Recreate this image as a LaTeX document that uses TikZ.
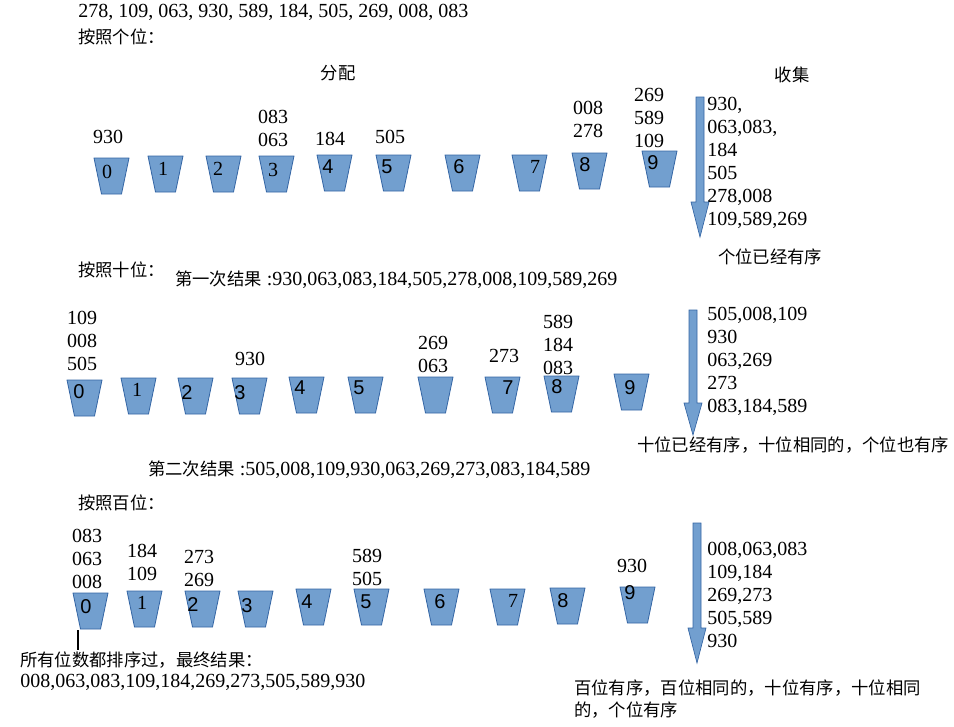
\documentclass[tikz,border=0pt]{standalone}
\usepackage{fontspec}
\setmainfont{Liberation Serif}
\newfontfamily\cjk{Noto Sans CJK SC}
\newfontfamily\lsans{Liberation Sans}
\definecolor{bucketfill}{HTML}{729FCF}
\definecolor{bucketline}{HTML}{3465A4}
\newcommand{\cn}[1]{{\cjk\fontsize{13}{16.5}\selectfont #1}}

\begin{document}
\begin{tikzpicture}[x=0.75pt,y=-0.75pt,
  every node/.style={inner sep=0pt,font=\fontsize{15}{17.25}\selectfont},
  bucket/.style={fill=bucketfill,draw=bucketline,line width=0.6pt},
  blockarrow/.style={fill=bucketfill,draw=bucketline,line width=0.5pt},
  stack/.style={align=center},
  collect/.style={anchor=west,align=left}]
  \useasboundingbox (0,0) rectangle (954,726);
  % 原始序列
  \node[anchor=west] (seq) at (78,12) {278, 109, 063, 930, 589, 184, 505, 269, 008, 083};
  \node[anchor=west] (t1) at (78,37) {\cn{按照个位：}};
  \node (fp) at (338,73) {\cn{分配}};
  \node (sj) at (792,75) {\cn{收集}};
  % 第一轮：个位
  \foreach \x/\y/\d/\dx/\dy [count=\i] in {94/158/0/107/172, 148/156/1/163/169,
      206/156/2/218/169, 259/156/3/273/170, 317/155/{\lsans 4}/328/167,
      376/155/{\lsans 5}/387/167, 445/155/{\lsans 6}/459/167, 512/155/7/535/167,
      572/153/{\lsans 8}/585/165, 642/151/{\lsans 9}/653/163}{
    \draw[bucket] (\x,\y) -- ++(35,0) -- ++(-7.5,36) -- ++(-20,0) -- cycle;
    \node (a\i) at (\dx,\dy) {\d};
  }
  \node[stack] (a0v) at (108,137) {930};
  \node[stack] (a3v) at (273,128) {083\\063};
  \node[stack] (a4v) at (330,139) {184};
  \node[stack] (a5v) at (390,137) {505};
  \node[stack] (a8v) at (588,119) {008\\278};
  \node[stack] (a9v) at (649,118) {269\\589\\109};
  \node[collect] (c1) at (707,162.5) {930,\\063,083,\\184\\505\\278,008\\109,589,269};
  \node (r1) at (770,257) {\cn{个位已经有序}};
  % 第二轮：十位
  \node[anchor=west] (t2) at (78,270) {\cn{按照十位：}};
  \node[anchor=west] (res1) at (175,280) {\cn{第一次结果} :930,063,083,184,505,278,008,109,589,269};
  \foreach \x/\y/\d/\dx/\dy [count=\i] in {67/380/{\lsans 0}/79/392, 121/378/1/137/390,
      178/378/{\lsans 2}/187/393, 232/378/{\lsans 3}/240/393, 289/377/{\lsans 4}/300/388,
      348/377/{\lsans 5}/359/388, 418/377/{}/435/388, 485/377/{\lsans 7}/508/388,
      544/376/{\lsans 8}/557/387, 614/374/{\lsans 9}/630/388}{
    \draw[bucket] (\x,\y) -- ++(35,0) -- ++(-7.5,36) -- ++(-20,0) -- cycle;
    \node (b\i) at (\dx,\dy) {\d};
  }
  \node[stack] (b0v) at (82,341) {109\\008\\505};
  \node[stack] (b3v) at (250,359) {930};
  \node[stack] (b6v) at (433,354.5) {269\\063};
  \node[stack] (b7v) at (504,356) {273};
  \node[stack] (b8v) at (558,345) {589\\184\\083};
  \node[collect] (c2) at (707,361.5) {505,008,109\\930\\063,269\\273\\083,184,589};
  \node[anchor=west] (r2) at (637,445) {\cn{十位已经有序，十位相同的，个位也有序}};
  \node[anchor=west] (res2) at (148,470) {\cn{第二次结果} :505,008,109,930,063,269,273,083,184,589};
  % 第三轮：百位
  \node[anchor=west] (t3) at (78,503) {\cn{按照百位：}};
  \foreach \x/\y/\d/\dx/\dy [count=\i] in {73/593/{\lsans 0}/86/607, 127/591/1/142/603,
      185/591/{\lsans 2}/193/605, 238/591/{\lsans 3}/247/606, 296/589/{\lsans 4}/307/602,
      354/589/{\lsans 5}/366/602, 424/589/{\lsans 6}/440/602, 490/589/7/513/601,
      550/588/{\lsans 8}/563/601, 620/587/{\lsans 9}/630/593}{
    \draw[bucket] (\x,\y) -- ++(35,0) -- ++(-7.5,36) -- ++(-20,0) -- cycle;
    \node (e\i) at (\dx,\dy) {\d};
  }
  \node[stack] (e0v) at (87,559) {083\\063\\008};
  \node[stack] (e1v) at (142,562) {184\\109};
  \node[stack] (e2v) at (199,568) {273\\269};
  \node[stack] (e5v) at (367,567) {589\\505};
  \node[stack] (e9v) at (632,566) {930};
  \node[collect] (c3) at (707,595) {008,063,083\\109,184\\269,273\\505,589\\930};
  \node[collect,font=\cjk\fontsize{13}{16.5}\selectfont] (r3) at (574,699)
    {百位有序，百位相同的，十位有序，十位相同\\的，个位有序};
  % 最终结果
  \coordinate (mk) at (78,650);
  \draw[line width=1.5pt] (78,630) -- (mk);
  \node[anchor=west] (fin) at (20,660) {\cn{所有位数都排序过，最终结果：}};
  \node[anchor=west] (finv) at (20,682) {008,063,083,109,184,269,273,505,589,930};
  % 收集箭头
  \foreach \cx/\ty/\hy/\tip in {700/97/202/237, 693/310/403/435, 697/523/628/663}
    \draw[blockarrow] (\cx-4,\ty) -- (\cx+4,\ty) -- (\cx+4,\hy) -- (\cx+9,\hy)
      -- (\cx,\tip) -- (\cx-9,\hy) -- (\cx-4,\hy) -- cycle;
\end{tikzpicture}
\end{document}
